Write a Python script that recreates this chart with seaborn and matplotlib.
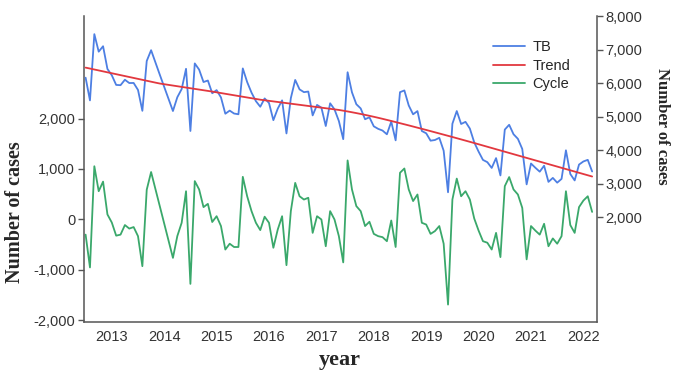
import numpy as np
import pandas as pd
import matplotlib
matplotlib.use("Agg")
import matplotlib.pyplot as plt
from matplotlib.ticker import FuncFormatter
import seaborn as sns

# monthly series, Jan 2013 onwards
start_year = 2013
years = list(range(2013, 2023))

tb = [6160, 5482, 7459, 6936, 7098, 6420, 6232, 5944, 5936, 6098, 6000, 6002,
      5794, 5171, 6658, 6980, 6612, 6245, 5885, 5525, 5165, 5575, 5820, 6425,
      4570, 6585, 6400, 6030, 6075, 5695, 5788, 5571, 5084, 5177, 5090, 5068,
      6436, 6029, 5712, 5460, 5293, 5541, 5404, 4892, 5235, 5483, 4496, 5549,
      6092, 5810, 5728, 5746, 5034, 5347, 5265, 4718, 5396, 5214, 4867, 4325,
      6322, 5723, 5368, 5242, 4920, 4977, 4708, 4633, 4582, 4470, 4848, 4290,
      5727, 5779, 5331, 5067, 5163, 4569, 4500, 4280, 4300, 4365, 3980, 2740,
      4785, 5164, 4778, 4842, 4641, 4230, 3953, 3706, 3639, 3467, 3760, 3243,
      4611, 4754, 4472, 4335, 4033, 2976, 3599, 3472, 3355, 3533, 3051, 3169,
      3027, 3140, 3993, 3286, 3094, 3567, 3660, 3708, 3361]

trend = [6460, 6432, 6404, 6376, 6348, 6320, 6292, 6264, 6236, 6208, 6180, 6152,
         6124, 6096, 6068, 6040, 6012, 5985, 5965, 5945, 5925, 5905, 5885, 5865,
         5845, 5825, 5805, 5785, 5765, 5745, 5723, 5701, 5679, 5657, 5635, 5613,
         5591, 5569, 5547, 5525, 5503, 5486, 5469, 5452, 5435, 5418, 5401, 5384,
         5367, 5350, 5333, 5316, 5299, 5282, 5265, 5248, 5231, 5214, 5197, 5175,
         5152, 5128, 5103, 5077, 5050, 5022, 4993, 4963, 4932, 4900, 4868, 4835,
         4802, 4769, 4736, 4702, 4668, 4634, 4600, 4565, 4530, 4495, 4460, 4425,
         4390, 4354, 4318, 4282, 4246, 4210, 4173, 4136, 4099, 4062, 4025, 3988,
         3951, 3914, 3877, 3840, 3803, 3766, 3729, 3692, 3655, 3618, 3581, 3544,
         3507, 3470, 3433, 3396, 3359, 3322, 3285, 3248, 3211]

cycle = [-300, -950, 1055, 560, 750, 100, -60, -320, -300, -110, -180, -150,
         -330, -925, 590, 940, 600, 260, -80, -420, -760, -330, -65, 560,
         -1275, 760, 595, 245, 310, -50, 65, -130, -595, -480, -545, -545,
         845, 460, 165, -65, -210, 55, -65, -560, -200, 65, -905, 165,
         725, 460, 395, 430, -265, 65, 0, -530, 165, 0, -330, -850,
         1170, 595, 265, 165, -130, -45, -285, -330, -350, -430, -20, -545,
         925, 1010, 595, 365, 495, -65, -100, -285, -230, -130, -480, -1685,
         395, 810, 460, 560, 395, 20, -220, -430, -460, -595, -265, -745,
         660, 840, 595, 495, 230, -790, -130, -220, -300, -85, -530, -375,
         -480, -330, 560, -110, -265, 245, 375, 460, 150]

left_ticks = [-2000, -1000, 0, 1000, 2000]
right_ticks = [2000, 3000, 4000, 5000, 6000, 7000, 8000]

t = start_year + np.arange(len(tb)) / 12
df = pd.DataFrame({"t": t, "TB": tb, "Trend": trend, "Cycle": cycle})

sns.set_style("white")
plt.rcParams["font.family"] = ["Liberation Sans", "DejaVu Sans"]

c_tb, c_trend, c_cycle = "#4d7fe3", "#e2383f", "#3aa86b"
spine_col = "#555555"

fig = plt.figure(figsize=(6.89, 3.82), dpi=100)
ax = fig.add_axes([0.1212, 0.1571, 0.7453, 0.801])
ax2 = ax.twinx()

sns.lineplot(data=df, x="t", y="Cycle", ax=ax, color=c_cycle, lw=1.3, legend=False)
sns.lineplot(data=df, x="t", y="TB", ax=ax2, color=c_tb, lw=1.3, legend=False)
sns.lineplot(data=df, x="t", y="Trend", ax=ax2, color=c_trend, lw=1.3, legend=False)

ax.set_xlim(2012.96, 2022.76)
ax.set_ylim(-2030, 4030)
ax2.set_ylim(-1130, 8000)

fmt = FuncFormatter(lambda v, p: f"{v:,.0f}")
ax.set_yticks(left_ticks)
ax.yaxis.set_major_formatter(fmt)
ax2.set_yticks(right_ticks)
ax2.yaxis.set_major_formatter(fmt)

ax.set_xticks(years[1:])
ax.set_xticklabels([])
ax.set_xticks([y + 0.5 for y in years], minor=True)
ax.set_xticklabels([str(y) for y in years], minor=True)
ax.tick_params(axis="x", which="minor", length=0, pad=6)
ax.tick_params(axis="x", which="major", length=4, direction="out", color=spine_col, width=1)

ax.tick_params(axis="y", length=4, direction="out", color=spine_col, width=1,
               labelsize=10.5, labelcolor="#333333", pad=2)
ax2.tick_params(axis="y", length=4, direction="out", color=spine_col, width=1,
                labelsize=10.5, labelcolor="#333333", pad=2)
ax.tick_params(axis="x", which="minor", labelsize=10.5, labelcolor="#333333")

for a in (ax, ax2):
    for s in a.spines.values():
        s.set_color(spine_col)
        s.set_linewidth(1.1)
    a.spines["top"].set_visible(False)
ax.spines["right"].set_visible(False)
ax2.spines["left"].set_visible(False)
ax2.spines["bottom"].set_visible(False)

lab_font = dict(family=["Liberation Serif", "DejaVu Serif"], fontweight="bold")
ax.set_xlabel("year", fontsize=16, **lab_font)
ax.xaxis.set_label_coords(0.5, -0.09)
ax.set_ylabel("Number of cases", fontsize=14.5, va="center", **lab_font)
ax.yaxis.set_label_coords(-0.133, 0.36)
ax2.set_ylabel("Number of cases", fontsize=12, rotation=-90, va="center", **lab_font)
ax2.yaxis.set_label_coords(1.127, 0.64)

handles = [ax2.lines[0], ax2.lines[1], ax.lines[0]]
ax2.legend(handles, ["TB", "Trend", "Cycle"], loc="upper left",
           bbox_to_anchor=(0.797, 0.92), frameon=False, fontsize=10.5,
           handlelength=2.2, handletextpad=0.5, labelspacing=0.3,
           borderpad=0, borderaxespad=0)

fig.savefig("out.png", dpi=100)
